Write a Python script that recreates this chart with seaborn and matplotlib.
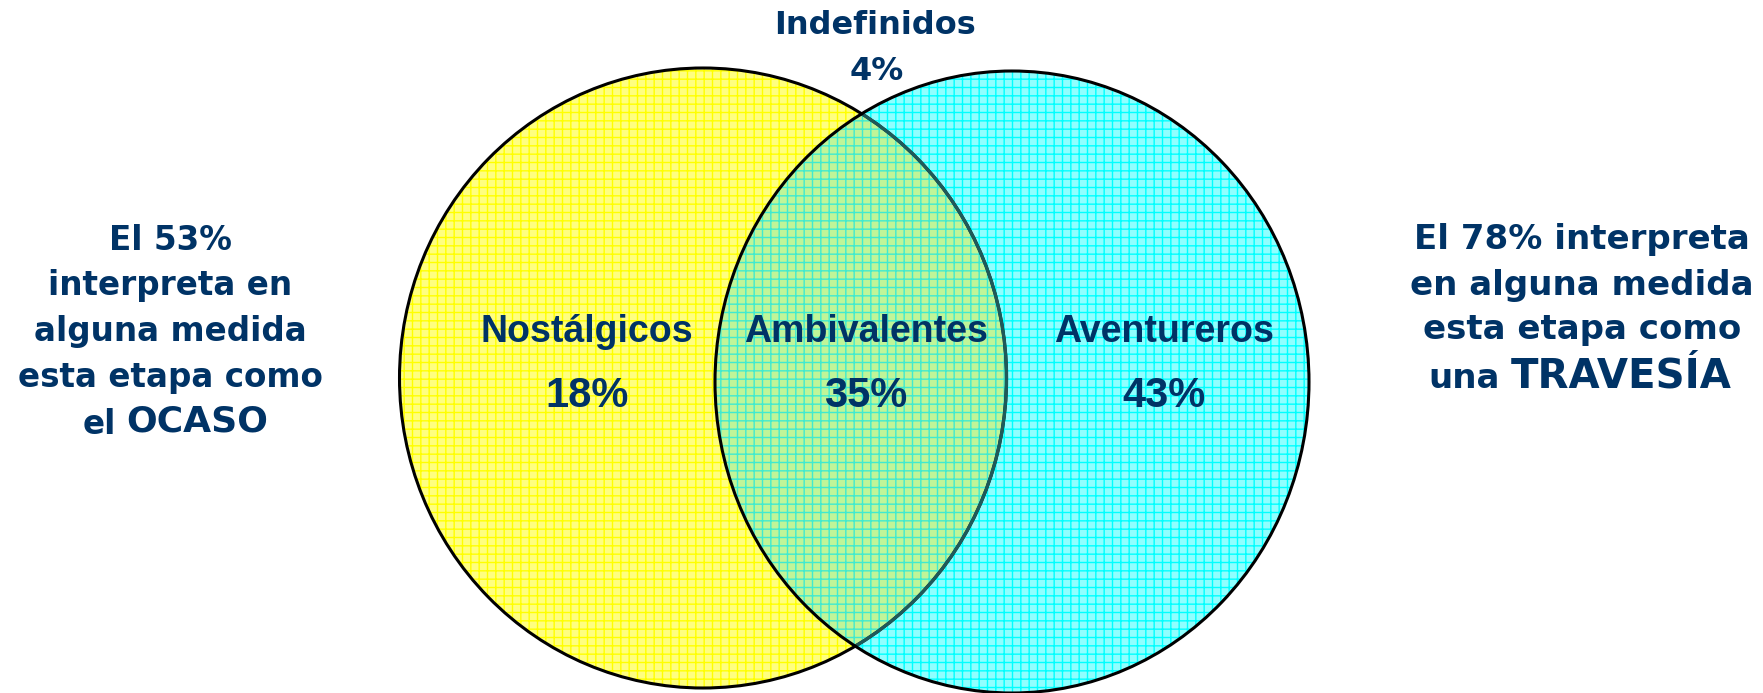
import matplotlib.pyplot as plt
import seaborn as sns
from matplotlib.patches import Ellipse

# Segmentos (porcentaje de entrevistados)
SEGMENTS = ["Nostálgicos", "Ambivalentes", "Aventureros"]
SHARES = [18, 35, 43]
UNDEFINED_LABEL = "Indefinidos"
UNDEFINED_SHARE = 4

OCASO_SHARE = SHARES[0] + SHARES[1]
TRAVESIA_SHARE = SHARES[1] + SHARES[2]

TEXT_COLOR = "#003366"
SIDE_FONT = ["DejaVu Sans"]
LABEL_FONT = ["Liberation Sans", "DejaVu Sans"]

W, H = 1763, 693


def add_ellipse(ax, center, size, **kwargs):
    patch = Ellipse(center, size[0], size[1], transform=ax.transData, **kwargs)
    ax.add_patch(patch)
    return patch


def main() -> None:
    sns.set_theme(style="white")
    plt.rcParams["font.family"] = SIDE_FONT
    plt.rcParams["hatch.linewidth"] = 1.0

    fig = plt.figure(figsize=(W / 100, H / 100), dpi=100)
    ax = fig.add_axes([0, 0, 1, 1])
    ax.set_xlim(0, W)
    ax.set_ylim(H, 0)
    ax.axis("off")

    left_c, left_s = (703, 378), (607, 620)
    right_c, right_s = (1012, 382), (594, 622)

    # rellenos con trama de rejilla
    add_ellipse(ax, left_c, left_s, facecolor="#FFFF80", edgecolor="#FFFF00",
                hatch="++", linewidth=0, zorder=1)
    add_ellipse(ax, right_c, right_s, facecolor="#90FFFF", edgecolor="#00FFFF",
                hatch="++", linewidth=0, zorder=2)
    clip_right = Ellipse(right_c, right_s[0], right_s[1], transform=ax.transData)
    overlap = add_ellipse(ax, left_c, left_s, facecolor="#C0F598", edgecolor="#40EAD0",
                          hatch="++", linewidth=0, zorder=3)
    overlap.set_clip_path(clip_right)

    # contornos
    add_ellipse(ax, left_c, left_s, fill=False, edgecolor="black", linewidth=2.2, zorder=4)
    inner_edge = add_ellipse(ax, left_c, left_s, fill=False, edgecolor="#1E5A5A",
                             linewidth=2.4, zorder=5)
    inner_edge.set_clip_path(clip_right)
    add_ellipse(ax, right_c, right_s, fill=False, edgecolor="black", linewidth=2.2, zorder=6)

    # etiquetas de segmentos
    label_x = [587, 866, 1164]
    for x, name, share in zip(label_x, SEGMENTS, SHARES):
        ax.text(x, 332, name, ha="center", va="center", fontsize=27,
                fontweight="bold", color=TEXT_COLOR, family=LABEL_FONT, zorder=10)
        ax.text(x, 396, f"{share}%", ha="center", va="center", fontsize=30,
                fontweight="bold", color=TEXT_COLOR, family=LABEL_FONT, zorder=10)

    ax.text(875, 25, UNDEFINED_LABEL, ha="center", va="center", fontsize=23,
            fontweight="bold", color=TEXT_COLOR, zorder=10)
    ax.text(877, 71, f"{UNDEFINED_SHARE}%", ha="center", va="center", fontsize=23,
            fontweight="bold", color=TEXT_COLOR, zorder=10)

    # textos laterales
    left_lines = [f"El {OCASO_SHARE}%", "interpreta en", "alguna medida", "esta etapa como"]
    for i, line in enumerate(left_lines):
        ax.text(170, 240 + i * 46, line, ha="center", va="center", fontsize=23.5,
                fontweight="bold", color=TEXT_COLOR)
    ax.text(116, 424, "el", ha="right", va="center", fontsize=23.5,
            fontweight="bold", color=TEXT_COLOR)
    ax.text(126, 422, "OCASO", ha="left", va="center", fontsize=26,
            fontweight="bold", color=TEXT_COLOR)

    right_lines = [f"El {TRAVESIA_SHARE}% interpreta", "en alguna medida", "esta etapa como"]
    for i, line in enumerate(right_lines):
        ax.text(1582, 240 + i * 45, line, ha="center", va="center", fontsize=24.5,
                fontweight="bold", color=TEXT_COLOR)
    ax.text(1500, 379, "una", ha="right", va="center", fontsize=24.5,
            fontweight="bold", color=TEXT_COLOR)
    ax.text(1511, 377, "TRAVESÍA", ha="left", va="center", fontsize=29,
            fontweight="bold", color=TEXT_COLOR)

    fig.savefig("out.png", dpi=100, facecolor="white")
    plt.close(fig)


if __name__ == "__main__":
    main()
